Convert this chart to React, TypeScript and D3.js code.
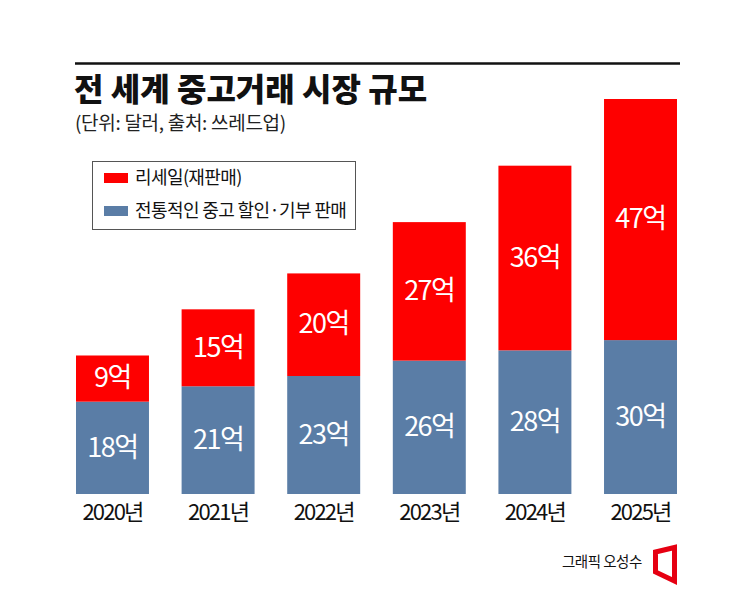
import React from "react";
import * as d3 from "d3";

const years = ["2020년", "2021년", "2022년", "2023년", "2024년", "2025년"];
const traditional = [18, 21, 23, 26, 28, 30];
const resale = [9, 15, 20, 27, 36, 47];
const seriesNames = ["리세일(재판매)", "전통적인 중고 할인·기부 판매"];
const unit = "억";

const RED = "#fe0000";
const BLUE = "#5a7da6";
const FONT = "'Noto Sans CJK KR', 'Noto Sans', sans-serif";

export default function App() {
  const W = 745, H = 590;
  const x = d3.scaleBand<string>().domain(years).range([76, 677]).paddingInner(0.309).paddingOuter(0);
  const y = d3.scaleLinear().domain([0, 77]).range([494, 99]);
  const stack = d3.stack<any>().keys(["traditional", "resale"])(
    years.map((yr, i) => ({ year: yr, traditional: traditional[i], resale: resale[i] }))
  );
  const colors = [BLUE, RED];

  return (
    <svg width={W} height={H} style={{ position: "absolute", left: 0, top: 0, background: "#fff" }} fontFamily={FONT}>
      <rect width={W} height={H} fill="#fff" />
      <line x1={75} x2={680} y1={63.5} y2={63.5} stroke="#111" strokeWidth={2.5} />
      <text x={74} y={101} fontSize={32} fontWeight={900} fill="#111" letterSpacing={0}>전 세계 중고거래 시장 규모</text>
      <text x={75} y={130} fontSize={19} fill="#222" letterSpacing={-0.3}>(단위: 달러, 출처: 쓰레드업)</text>

      {stack.map((s, si) => (
        <g key={si}>
          {s.map((d, i) => {
            const x0 = x(years[i])!;
            const y0 = y(d[1]);
            const y1 = y(d[0]);
            const val = d[1] - d[0];
            return (
              <g key={i}>
                <rect x={x0} y={y0} width={x.bandwidth()} height={y1 - y0} fill={colors[si]} />
                <text x={x0 + x.bandwidth() / 2} y={(y0 + y1) / 2 - 1} dy="0.36em" textAnchor="middle" fontSize={27} fill="#fff" letterSpacing={-1.5}>
                  {val}{unit}
                </text>
              </g>
            );
          })}
        </g>
      ))}

      {years.map((yr) => (
        <text key={yr} x={x(yr)! + x.bandwidth() / 2} y={512} dy="0.36em" textAnchor="middle" fontSize={22} fill="#111" letterSpacing={-1.8}>
          {yr}
        </text>
      ))}

      <rect x={92.5} y={161.5} width={263} height={68} fill="#fff" stroke="#555" strokeWidth={1} />
      {seriesNames.map((n, i) => (
        <g key={n} transform={`translate(104, ${178 + i * 33})`}>
          <rect x={0} y={-5} width={24} height={10} fill={i === 0 ? RED : BLUE} />
          <text x={31} y={0} dy="0.36em" fontSize={18} fill="#111" letterSpacing={-0.6}>{n}</text>
        </g>
      ))}

      <text x={562} y={562} dy="0.36em" fontSize={14.5} fill="#111" letterSpacing={-0.5}>그래픽 오성수</text>
      <path d="M655.5,552 L674.5,547.5 L674.5,581 L655.5,572 Z" fill="none" stroke="#e60012" strokeWidth={5} />
    </svg>
  );
}
